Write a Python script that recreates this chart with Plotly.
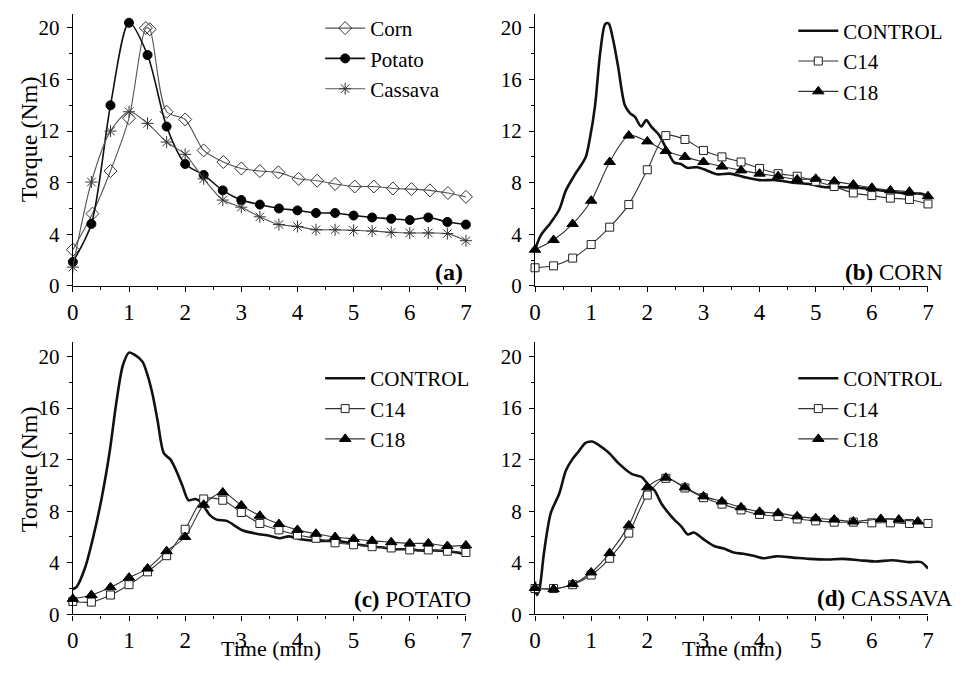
import plotly.graph_objects as go

# ---------------- DATA ----------------
# common sampling times of the marked curves (min)
t_marks = [0, 0.33, 0.67, 1.0, 1.33, 1.67, 2.0, 2.33, 2.67, 3.0, 3.33, 3.67,
           4.0, 4.33, 4.67, 5.0, 5.33, 5.67, 6.0, 6.33, 6.67, 7.0]

# (a) native starches
a_corn_t = [0, 0.35, 0.67, 1.0, 1.30, 1.37, 1.67, 2.0, 2.33, 2.68, 3.0, 3.33, 3.66,
            4.02, 4.35, 4.67, 5.02, 5.36, 5.70, 6.03, 6.36, 6.68, 7.0]
a_corn = [2.8, 5.6, 8.9, 13.0, 20.0, 19.9, 13.5, 12.9, 10.5, 9.6, 9.1, 8.9, 8.8,
          8.3, 8.15, 7.9, 7.7, 7.7, 7.55, 7.5, 7.4, 7.2, 6.9]
a_potato = [1.85, 4.8, 14.0, 20.4, 17.9, 12.35, 9.45, 8.6, 7.4, 6.65, 6.3, 6.0,
            5.85, 5.65, 5.65, 5.45, 5.3, 5.2, 5.1, 5.3, 4.95, 4.75]
a_cassava = [1.45, 8.05, 12.0, 13.5, 12.6, 11.15, 10.2, 8.3, 6.65, 6.1, 5.35, 4.75,
             4.6, 4.35, 4.35, 4.3, 4.25, 4.15, 4.1, 4.1, 4.05, 3.5]

# (b) corn
b_ctrl_t = [0, 0.1, 0.28, 0.43, 0.55, 0.72, 0.9, 0.98, 1.07, 1.16, 1.25, 1.31, 1.39,
            1.48, 1.6, 1.69, 1.78, 1.89, 1.98, 2.07, 2.21, 2.36, 2.48, 2.6, 2.71,
            2.89, 3.06, 3.24, 3.47, 3.71, 4.0, 4.29, 4.59, 4.88, 5.17, 5.47, 5.76,
            6.05, 6.34, 6.64, 6.87, 7.0]
b_ctrl = [2.8, 3.9, 4.9, 5.9, 7.4, 8.7, 9.95, 11.5, 14.0, 18.05, 20.3, 20.35, 19.1,
          17.0, 14.0, 13.4, 13.1, 12.35, 12.85, 12.35, 11.7, 10.45, 9.55, 9.45, 9.15,
          9.2, 8.95, 8.65, 8.7, 8.45, 8.2, 8.2, 8.0, 7.9, 7.65, 7.65, 7.6,
          7.45, 7.3, 7.15, 7.15, 6.95]
b_c14 = [1.4, 1.55, 2.15, 3.2, 4.55, 6.3, 9.0, 11.65, 11.35, 10.5, 10.0, 9.6, 9.1,
         8.7, 8.5, 8.1, 7.7, 7.2, 7.0, 6.8, 6.7, 6.35]
b_c18 = [2.8, 3.55, 4.8, 6.6, 9.6, 11.65, 11.2, 10.45, 10.0, 9.6, 9.25, 8.95, 8.7,
         8.5, 8.25, 8.3, 8.1, 7.85, 7.6, 7.4, 7.3, 6.95]

# (c) potato
c_ctrl_t = [0, 0.07, 0.22, 0.36, 0.51, 0.66, 0.77, 0.89, 1.0, 1.11, 1.24, 1.33, 1.42,
            1.51, 1.62, 1.74, 1.83, 1.95, 2.06, 2.18, 2.27, 2.36, 2.44, 2.56, 2.74,
            2.91, 3.03, 3.27, 3.5, 3.68, 3.85, 4.09, 4.32, 4.55, 4.79, 5.02, 5.26,
            5.49, 5.73, 5.96, 6.2, 6.43, 6.66, 6.84, 7.0]
c_ctrl = [1.95, 2.15, 3.65, 5.95, 8.95, 12.75, 16.3, 19.3, 20.3, 20.1, 19.6, 18.55,
          17.05, 15.0, 12.5, 12.0, 11.25, 10.0, 8.85, 8.95, 8.75, 8.2, 7.7, 7.35, 7.25,
          6.8, 6.5, 6.25, 6.1, 5.9, 6.05, 5.8, 5.7, 5.7, 5.65, 5.45, 5.3,
          5.2, 5.05, 5.05, 4.95, 4.95, 4.9, 4.8, 4.65]
c_c14 = [1.0, 0.95, 1.5, 2.3, 3.3, 4.55, 6.6, 8.95, 8.85, 7.9, 7.05, 6.55, 6.15,
         5.9, 5.55, 5.4, 5.25, 5.15, 5.0, 5.0, 4.9, 4.8]
c_c18 = [1.2, 1.5, 2.1, 2.85, 3.55, 4.9, 6.0, 8.5, 9.45, 8.45, 7.65, 7.0, 6.55,
         6.25, 6.0, 5.85, 5.7, 5.6, 5.5, 5.5, 5.3, 5.35]

# (d) cassava
d_ctrl_t = [0, 0.03, 0.08, 0.16, 0.28, 0.43, 0.55, 0.66, 0.78, 0.9, 1.02, 1.13, 1.31,
            1.48, 1.72, 1.9, 2.01, 2.13, 2.25, 2.36, 2.48, 2.6, 2.72, 2.83, 3.01,
            3.19, 3.36, 3.54, 3.71, 3.89, 4.07, 4.3, 4.6, 4.89, 5.18, 5.48, 5.77,
            6.06, 6.36, 6.65, 6.88, 7.0]
d_ctrl = [2.55, 1.5, 2.0, 4.8, 7.85, 9.35, 11.15, 12.0, 12.65, 13.3, 13.4, 13.15, 12.55,
          11.75, 10.9, 10.65, 10.1, 9.6, 8.6, 7.95, 7.35, 6.85, 6.2, 6.35, 5.8,
          5.3, 5.1, 4.8, 4.7, 4.55, 4.35, 4.5, 4.4, 4.3, 4.25, 4.3, 4.2,
          4.1, 4.2, 4.05, 4.05, 3.55]
d_c14 = [2.0, 2.0, 2.3, 3.05, 4.35, 6.3, 9.25, 10.55, 9.8, 9.05, 8.55, 8.1, 7.75,
         7.6, 7.4, 7.25, 7.15, 7.15, 7.1, 7.1, 7.05, 7.05]
d_c18_t = [0, 0.33, 0.67, 1.0, 1.33, 1.67, 2.0, 2.33, 2.67, 3.0, 3.33, 3.67, 4.0,
           4.33, 4.67, 5.0, 5.33, 5.67, 6.16, 6.48, 6.82]
d_c18 = [2.05, 1.95, 2.35, 3.25, 4.75, 6.9, 9.85, 10.6, 9.85, 9.15, 8.75, 8.3, 7.95,
         7.85, 7.6, 7.45, 7.35, 7.2, 7.4, 7.35, 7.2]

x_ticks = [0, 1, 2, 3, 4, 5, 6, 7]
y_ticks = [0, 4, 8, 12, 16, 20]

FONT = "Liberation Serif"

# ---------------- FIGURE ----------------
fig = go.Figure()


def add(x, y, name, panel, legend, symbol=None, msize=8, mcolor="black",
        lcolor="#222", lwidth=1.3, mline="black"):
    suffix = "" if panel == 1 else str(panel)
    mode = "lines" if symbol is None else "lines+markers"
    marker = None
    if symbol is not None:
        marker = dict(symbol=symbol, size=msize, color=mcolor,
                      line=dict(color=mline, width=1))
    fig.add_trace(go.Scatter(
        x=x, y=y, name=name, mode=mode, marker=marker,
        line=dict(color=lcolor, width=lwidth, shape="spline", smoothing=0.8),
        xaxis="x" + suffix, yaxis="y" + suffix, legend=legend,
        cliponaxis=False))


# (a)
add(a_corn_t, a_corn, "Corn", 1, "legend", "diamond-open", 10, "#333", "#555", 1.1, "#333")
add(t_marks, a_potato, "Potato", 1, "legend", "circle", 9, "black", "#111", 1.6)
add(t_marks, a_cassava, "Cassava", 1, "legend", "asterisk-open", 10, "#333", "#555", 1.1, "#333")

# (b), (c), (d)
panels = [
    (2, "legend2", b_ctrl_t, b_ctrl, t_marks, b_c14, t_marks, b_c18),
    (3, "legend3", c_ctrl_t, c_ctrl, t_marks, c_c14, t_marks, c_c18),
    (4, "legend4", d_ctrl_t, d_ctrl, t_marks, d_c14, d_c18_t, d_c18),
]
for p, lg, ct, cy, t14, y14, t18, y18 in panels:
    add(ct, cy, "CONTROL", p, lg, None, lcolor="#111", lwidth=2.6)
    add(t14, y14, "C14", p, lg, "square", 8, "white", "#333", 1.1, "#222")
    add(t18, y18, "C18", p, lg, "triangle-up", 10, "black", "#333", 1.1, "black")

H, W = 674, 964
xdom_left = [67.7 / W, 465.7 / W]
xdom_right = [535.7 / W, 933.6 / W]
ydom_top = [1 - 291 / H, 1 - 14.0 / H]
ydom_bot = [1 - 625.5 / H, 1 - 348.5 / H]


def xa(dom, anchor):
    return dict(domain=dom, anchor=anchor, range=[0, 7], tickvals=x_ticks,
                showline=True, linecolor="black", linewidth=1.3, mirror=False,
                ticks="outside", ticklen=5, tickwidth=1.3, tickcolor="black",
                minor=dict(dtick=0.5, ticks="outside", ticklen=3, tickcolor="black", tickwidth=1.2),
                showgrid=False, zeroline=False, ticklabelstandoff=0,
                tickfont=dict(family=FONT, size=23, color="black"))


def ya(dom, anchor):
    return dict(domain=dom, anchor=anchor, range=[0, 21.1], tickvals=y_ticks,
                showline=True, linecolor="black", linewidth=1.3, mirror=False,
                ticks="outside", ticklen=5, tickwidth=1.3, tickcolor="black",
                minor=dict(dtick=2, ticks="outside", ticklen=3, tickcolor="black", tickwidth=1.2),
                showgrid=False, zeroline=False, ticklabelstandoff=3,
                tickfont=dict(family=FONT, size=21, color="black"))


def leg(x, y):
    return dict(x=x, y=y, xanchor="left", yanchor="top", bgcolor="rgba(0,0,0,0)",
                font=dict(family=FONT, size=21, color="black"), itemwidth=40,
                tracegroupgap=0)


fig.update_layout(
    width=W, height=H, margin=dict(l=0, r=0, t=0, b=0),
    paper_bgcolor="white", plot_bgcolor="white",
    font=dict(family=FONT, color="black"),
    xaxis=xa(xdom_left, "y"), yaxis=ya(ydom_top, "x"),
    xaxis2=xa(xdom_right, "y2"), yaxis2=ya(ydom_top, "x2"),
    xaxis3=xa(xdom_left, "y3"), yaxis3=ya(ydom_bot, "x3"),
    xaxis4=xa(xdom_right, "y4"), yaxis4=ya(ydom_bot, "x4"),
    legend=leg(0.330, 0.988),
    legend2=leg(0.827, 0.984),
    legend3=leg(0.330, 0.459),
    legend4=leg(0.827, 0.459),
    showlegend=True,
)

ann = [
    dict(text="<b>(a)</b>", x=465 / W, y=1 - 277 / H, xanchor="right", size=24),
    dict(text="<b>(b)</b> CORN", x=951 / W, y=1 - 277 / H, xanchor="right", size=23),
    dict(text="<b>(c)</b> POTATO", x=473 / W, y=1 - 610 / H, xanchor="right", size=23),
    dict(text="<b>(d)</b> CASSAVA", x=961 / W, y=1 - 609 / H, xanchor="right", size=23),
]
for a in ann:
    fig.add_annotation(text=a["text"], x=a["x"], y=a["y"], xref="paper", yref="paper",
                       xanchor=a["xanchor"], yanchor="middle", showarrow=False,
                       font=dict(family=FONT, size=a["size"], color="black"))

for yc in (1 - 142 / H, 1 - 478 / H):
    fig.add_annotation(text="Torque (Nm)", x=24 / W, y=yc, xref="paper", yref="paper",
                       textangle=-90, showarrow=False, xanchor="center", yanchor="middle",
                       font=dict(family=FONT, size=24, color="black"))
for xc in (268 / W, 735 / W):
    fig.add_annotation(text="Time (min)", x=xc, y=0, xref="paper", yref="paper",
                       showarrow=False, xanchor="center", yanchor="bottom", borderpad=0,
                       font=dict(family=FONT, size=22, color="black"))

fig.write_html("out.html")
